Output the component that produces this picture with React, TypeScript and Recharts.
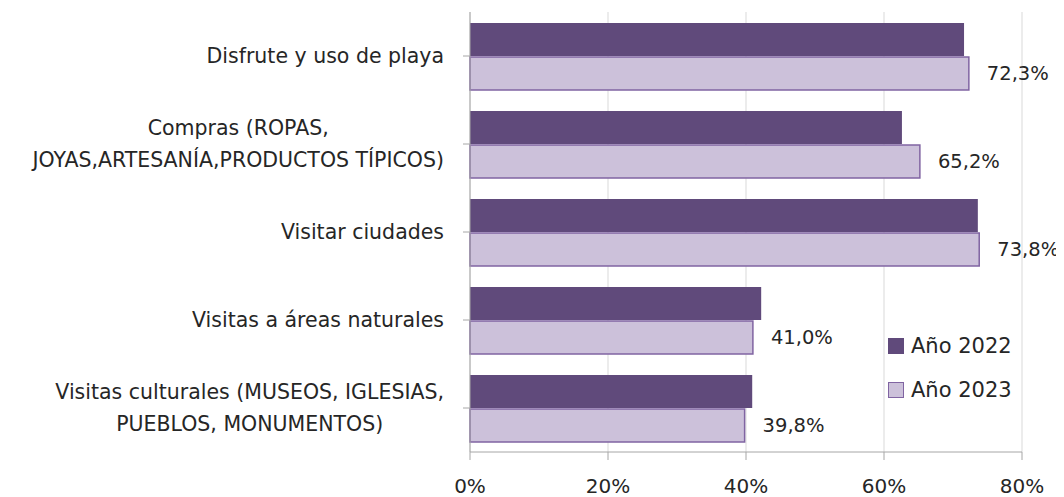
import React from "react";
import { Bar, BarChart, CartesianGrid, LabelList, XAxis, YAxis } from "recharts";

const categories = [
  "Disfrute y uso de playa",
  "Compras (ROPAS,\nJOYAS,ARTESANÍA,PRODUCTOS TÍPICOS)",
  "Visitar ciudades",
  "Visitas a áreas naturales",
  "Visitas culturales (MUSEOS, IGLESIAS,\nPUEBLOS, MONUMENTOS)",
];
const values2022 = [71.6, 62.6, 73.6, 42.2, 40.9];
const values2023 = [72.3, 65.2, 73.8, 41.0, 39.8];
const xTicks = [0, 20, 40, 60, 80];
const seriesNames = ["Año 2022", "Año 2023"];

const FONT = "'DejaVu Sans', sans-serif";
const FONT_SIZE = 20.5;
const TEXT = "#262626";
const DARK = "#604a7b";
const LIGHT = "#ccc1da";
const LIGHT_BORDER = "#8064a2";
const AXIS = "#a6a6a6";

const data = categories.map((name, i) => ({ name, y2022: values2022[i], y2023: values2023[i] }));

let ctx: CanvasRenderingContext2D | null = null;
function measure(text: string) {
  if (!ctx) ctx = document.createElement("canvas").getContext("2d");
  if (!ctx) return text.length * FONT_SIZE * 0.6;
  ctx.font = `${FONT_SIZE}px 'DejaVu Sans'`;
  return ctx.measureText(text).width;
}

function CategoryTick({ x, y, payload }: any) {
  const lines: string[] = String(payload.value).split("\n");
  if (lines.length === 1) {
    return (
      <text x={x} y={y} dy="0.35em" textAnchor="end" fill={TEXT} fontSize={FONT_SIZE} fontFamily={FONT}>
        {lines[0]}
      </text>
    );
  }
  // multi-line labels: block is right aligned, lines centred inside it
  const widest = Math.max(...lines.map(measure));
  const cx = x - widest / 2;
  const lh = 32;
  const start = y - ((lines.length - 1) * lh) / 2;
  return (
    <text textAnchor="middle" fill={TEXT} fontSize={FONT_SIZE} fontFamily={FONT}>
      {lines.map((l, i) => (
        <tspan key={i} x={cx} y={start + i * lh} dy="0.35em">
          {l}
        </tspan>
      ))}
    </text>
  );
}

function LegendBox() {
  const items = [
    { label: seriesNames[0], fill: DARK, stroke: DARK },
    { label: seriesNames[1], fill: LIGHT, stroke: LIGHT_BORDER },
  ];
  return (
    <div style={{ position: "absolute", left: 880, top: 316, fontFamily: FONT, fontSize: 21, color: TEXT }}>
      {items.map((it) => (
        <div key={it.label} style={{ display: "flex", alignItems: "center", height: 44, whiteSpace: "nowrap" }}>
          <span
            style={{
              display: "inline-block",
              width: 14,
              height: 14,
              background: it.fill,
              border: `1.5px solid ${it.stroke}`,
              marginRight: 7,
            }}
          />
          {it.label}
        </div>
      ))}
    </div>
  );
}

export default function App() {
  return (
    <div style={{ position: "relative", width: 1056, height: 489 }}>
      <BarChart
        width={1056}
        height={489}
        data={data}
        layout="vertical"
        margin={{ top: 4, right: 42, bottom: 0, left: 0 }}
        barSize={33}
        barGap={1}
      >
        <CartesianGrid horizontal={false} stroke="#d9d9d9" />
        <XAxis
          type="number"
          domain={[0, 80]}
          ticks={xTicks}
          tickFormatter={(v) => `${v}%`}
          height={45}
          axisLine={{ stroke: AXIS }}
          tickLine={{ stroke: AXIS }}
          tickSize={8}
          tickMargin={19}
          tick={{ fill: TEXT, fontSize: 20, fontFamily: FONT }}
        />
        <YAxis
          type="category"
          dataKey="name"
          width={462}
          axisLine={{ stroke: AXIS }}
          tickLine={{ stroke: AXIS }}
          tickSize={7}
          tickMargin={19}
          tick={<CategoryTick />}
          interval={0}
        />
        <Bar dataKey="y2022" name={seriesNames[0]} fill={DARK} isAnimationActive={false} />
        <Bar
          dataKey="y2023"
          name={seriesNames[1]}
          fill={LIGHT}
          stroke={LIGHT_BORDER}
          strokeWidth={1.5}
          isAnimationActive={false}
        >
          <LabelList
            dataKey="y2023"
            position="right"
            offset={18}
            formatter={(v: any) => `${Number(v).toFixed(1).replace(".", ",")}%`}
            style={{ fill: TEXT, fontSize: 19.5, fontFamily: FONT }}
          />
        </Bar>
      </BarChart>
      <LegendBox />
    </div>
  );
}
